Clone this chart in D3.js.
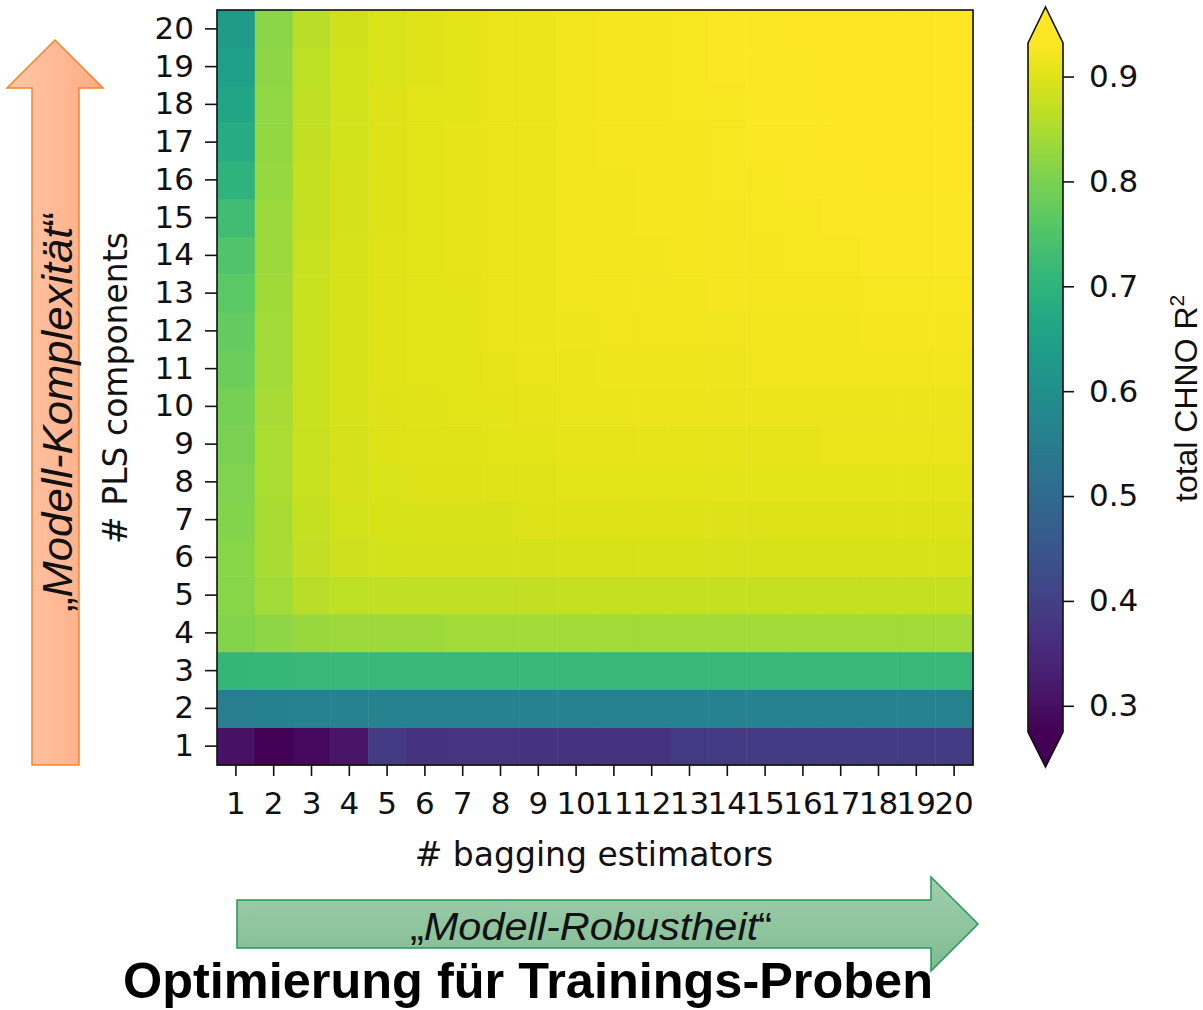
<!DOCTYPE html>
<html><head><meta charset="utf-8">
<script src="https://cdn.jsdelivr.net/npm/d3@7"></script>
<style>body{margin:0;background:#fff}svg{display:block}</style>
</head><body><svg id="c" width="1203" height="1010"></svg>
<script>
// ---- data ----
const baggingEstimators = [1,2,3,4,5,6,7,8,9,10,11,12,13,14,15,16,17,18,19,20];
const plsComponents = [1,2,3,4,5,6,7,8,9,10,11,12,13,14,15,16,17,18,19,20];
// r2RowNN = total CHNO R² for NN PLS components, columns = bagging estimators 1..20
const r2Row01 = [0.305,0.278,0.290,0.310,0.390,0.370,0.375,0.375,0.370,0.370,0.370,0.370,0.385,0.385,0.390,0.390,0.390,0.390,0.390,0.390];
const r2Row02 = [0.550,0.560,0.565,0.565,0.565,0.565,0.565,0.565,0.565,0.565,0.565,0.565,0.565,0.565,0.565,0.565,0.565,0.565,0.565,0.565];
const r2Row03 = [0.710,0.712,0.715,0.715,0.715,0.715,0.715,0.715,0.715,0.715,0.715,0.715,0.715,0.715,0.715,0.715,0.715,0.715,0.715,0.715];
const r2Row04 = [0.810,0.820,0.830,0.835,0.836,0.836,0.840,0.840,0.840,0.840,0.840,0.840,0.840,0.840,0.840,0.840,0.840,0.840,0.840,0.840];
const r2Row05 = [0.815,0.840,0.862,0.867,0.868,0.868,0.868,0.868,0.872,0.874,0.874,0.874,0.874,0.874,0.874,0.874,0.874,0.874,0.874,0.874];
const r2Row06 = [0.815,0.845,0.872,0.882,0.887,0.890,0.890,0.890,0.890,0.892,0.892,0.892,0.892,0.892,0.892,0.892,0.892,0.892,0.892,0.892];
const r2Row07 = [0.810,0.845,0.874,0.886,0.892,0.892,0.893,0.893,0.897,0.897,0.897,0.897,0.897,0.897,0.897,0.897,0.897,0.897,0.897,0.897];
const r2Row08 = [0.805,0.848,0.876,0.889,0.895,0.897,0.898,0.899,0.900,0.902,0.902,0.902,0.902,0.904,0.904,0.904,0.904,0.905,0.905,0.905];
const r2Row09 = [0.800,0.848,0.878,0.890,0.897,0.899,0.901,0.902,0.904,0.907,0.907,0.908,0.908,0.908,0.908,0.908,0.909,0.909,0.909,0.909];
const r2Row10 = [0.795,0.845,0.879,0.891,0.898,0.901,0.902,0.905,0.907,0.910,0.911,0.912,0.912,0.912,0.912,0.912,0.914,0.914,0.914,0.914];
const r2Row11 = [0.785,0.842,0.880,0.892,0.899,0.902,0.904,0.907,0.910,0.914,0.915,0.916,0.916,0.916,0.917,0.917,0.918,0.918,0.918,0.918];
const r2Row12 = [0.775,0.840,0.880,0.892,0.899,0.903,0.905,0.909,0.912,0.916,0.917,0.918,0.918,0.919,0.920,0.920,0.921,0.922,0.922,0.922];
const r2Row13 = [0.765,0.838,0.879,0.892,0.899,0.903,0.906,0.910,0.913,0.917,0.919,0.920,0.920,0.922,0.923,0.924,0.924,0.925,0.925,0.925];
const r2Row14 = [0.750,0.835,0.877,0.891,0.899,0.903,0.907,0.911,0.914,0.918,0.920,0.921,0.922,0.923,0.924,0.925,0.926,0.927,0.927,0.927];
const r2Row15 = [0.730,0.832,0.875,0.890,0.898,0.903,0.907,0.911,0.914,0.919,0.921,0.922,0.923,0.924,0.925,0.926,0.927,0.929,0.929,0.929];
const r2Row16 = [0.700,0.828,0.873,0.889,0.898,0.902,0.907,0.911,0.914,0.919,0.921,0.922,0.924,0.925,0.926,0.927,0.929,0.930,0.930,0.930];
const r2Row17 = [0.680,0.826,0.871,0.888,0.897,0.902,0.907,0.911,0.914,0.919,0.922,0.923,0.924,0.926,0.927,0.928,0.930,0.931,0.931,0.931];
const r2Row18 = [0.665,0.824,0.869,0.887,0.897,0.902,0.906,0.911,0.914,0.919,0.922,0.923,0.925,0.926,0.927,0.929,0.930,0.931,0.931,0.931];
const r2Row19 = [0.645,0.820,0.867,0.886,0.896,0.901,0.906,0.910,0.914,0.919,0.922,0.923,0.925,0.927,0.928,0.929,0.931,0.931,0.932,0.932];
const r2Row20 = [0.635,0.818,0.865,0.885,0.896,0.901,0.906,0.910,0.914,0.919,0.922,0.924,0.925,0.927,0.928,0.930,0.931,0.931,0.932,0.932];
const r2Rows = [r2Row01,r2Row02,r2Row03,r2Row04,r2Row05,r2Row06,r2Row07,r2Row08,r2Row09,r2Row10,
                r2Row11,r2Row12,r2Row13,r2Row14,r2Row15,r2Row16,r2Row17,r2Row18,r2Row19,r2Row20];
const colorbarTicks = [0.3,0.4,0.5,0.6,0.7,0.8,0.9];
const colorLimits = [0.275, 0.932];

const xTitle = "# bagging estimators";
const yTitle = "# PLS components";
const cbTitle = "total CHNO R";
const upArrowText = "Modell-Komplexität";
const rightArrowText = "Modell-Robustheit";
const bottomTitle = "Optimierung für Trainings-Proben";

// ---- drawing ----
const svg = d3.select("#c");
const defs = svg.append("defs");
const tickFont = "'DejaVu Sans', sans-serif";
const arial = "'Liberation Sans', Arial, sans-serif";

const color = d3.scaleSequential(d3.interpolateViridis).domain(colorLimits);

// plot area
const L = 217, R = 973, T = 10, B = 765;
const x = d3.scaleBand().domain(baggingEstimators).range([L, R]);
const y = d3.scaleBand().domain(plsComponents).range([B, T]);

const cells = [];
r2Rows.forEach((row, i) => row.forEach((v, j) => cells.push({pls: plsComponents[i], bag: baggingEstimators[j], v})));

svg.append("g").selectAll("rect").data(cells).join("rect")
  .attr("x", d => x(d.bag)).attr("y", d => y(d.pls))
  .attr("width", x.bandwidth() + 0.5).attr("height", y.bandwidth() + 0.5)
  .attr("fill", d => color(d.v));

svg.append("rect").attr("x", L).attr("y", T).attr("width", R - L).attr("height", B - T)
  .attr("fill", "none").attr("stroke", "#111").attr("stroke-width", 1.6);

// axes
const yAxis = svg.append("g").attr("transform", `translate(${L},0)`)
  .call(d3.axisLeft(y).tickSize(12).tickPadding(11));
const xAxis = svg.append("g").attr("transform", `translate(0,${B})`)
  .call(d3.axisBottom(x).tickSize(11).tickPadding(16));
[yAxis, xAxis].forEach(g => {
  g.select(".domain").remove();
  g.selectAll(".tick line").attr("stroke", "#111").attr("stroke-width", 1.6);
  g.selectAll(".tick text").attr("fill", "#111").style("font-family", tickFont).style("font-size", "31px");
});

svg.append("text").attr("x", 594).attr("y", 866).attr("text-anchor", "middle")
  .style("font-family", tickFont).style("font-size", "33px").attr("fill", "#111").text(xTitle);
svg.append("text").attr("transform", "translate(127,388) rotate(-90)").attr("text-anchor", "middle")
  .style("font-family", tickFont).style("font-size", "33px").attr("fill", "#111").text(yTitle);

// colorbar
const cbL = 1028, cbR = 1063, cbTop = 43, cbBot = 732, cbMid = (cbL + cbR) / 2;
const cbScale = d3.scaleLinear().domain(colorLimits).range([cbBot, cbTop]);
const grad = defs.append("linearGradient").attr("id", "cbg").attr("x1", 0).attr("y1", 1).attr("x2", 0).attr("y2", 0);
d3.range(0, 1.0001, 0.05).forEach(t => grad.append("stop").attr("offset", t)
  .attr("stop-color", color(colorLimits[0] + t * (colorLimits[1] - colorLimits[0]))));
svg.append("rect").attr("x", cbL).attr("y", cbTop).attr("width", cbR - cbL).attr("height", cbBot - cbTop).attr("fill", "url(#cbg)");
svg.append("path").attr("d", `M${cbL},${cbTop}L${cbMid},7L${cbR},${cbTop}Z`).attr("fill", color(colorLimits[1]));
svg.append("path").attr("d", `M${cbL},${cbBot}L${cbMid},767L${cbR},${cbBot}Z`).attr("fill", color(colorLimits[0]));
svg.append("path").attr("d", `M${cbL},${cbTop}L${cbMid},7L${cbR},${cbTop}L${cbR},${cbBot}L${cbMid},767L${cbL},${cbBot}Z`)
  .attr("fill", "none").attr("stroke", "#111").attr("stroke-width", 1.6);
const cbAxis = svg.append("g").attr("transform", `translate(${cbR},0)`)
  .call(d3.axisRight(cbScale).tickValues(colorbarTicks).tickFormat(d3.format(".1f")).tickSize(11).tickPadding(15));
cbAxis.select(".domain").remove();
cbAxis.selectAll(".tick line").attr("stroke", "#111").attr("stroke-width", 1.6);
cbAxis.selectAll(".tick text").attr("fill", "#111").style("font-family", tickFont).style("font-size", "31px");

const cbt = svg.append("text").attr("transform", "translate(1197,502) rotate(-90)")
  .style("font-family", arial).style("font-size", "32px").attr("fill", "#111");
cbt.append("tspan").text(cbTitle);
cbt.append("tspan").attr("dy", -13).style("font-size", "21px").text("2");

// orange up arrow
const og = defs.append("linearGradient").attr("id", "og").attr("x1", 0).attr("y1", 0).attr("x2", 1).attr("y2", 0);
og.append("stop").attr("offset", 0).attr("stop-color", "#ffc7a9");
og.append("stop").attr("offset", 1).attr("stop-color", "#ffac84");
svg.append("path").attr("d", "M32,765L32,88L7,88L55,40L103,88L79,88L79,765Z")
  .attr("fill", "url(#og)").attr("stroke", "#f5842a").attr("stroke-width", 1.5);
const ut = svg.append("text").attr("transform", "translate(72,612) rotate(-90)")
  .attr("textLength", 400).attr("lengthAdjust", "spacingAndGlyphs")
  .style("font-family", arial).style("font-size", "42px").attr("fill", "#111");
ut.append("tspan").text("\u201E");
ut.append("tspan").style("font-style", "italic").text(upArrowText);
ut.append("tspan").text("\u201C");

// green right arrow
const gg = defs.append("linearGradient").attr("id", "gg").attr("x1", 0).attr("y1", 0).attr("x2", 0).attr("y2", 1);
gg.append("stop").attr("offset", 0).attr("stop-color", "#a0cfad");
gg.append("stop").attr("offset", 1).attr("stop-color", "#80bb92");
svg.append("path").attr("d", "M237,900L931,900L931,877L978,924L931,971L931,948L237,948Z")
  .attr("fill", "url(#gg)").attr("stroke", "#1f9a55").attr("stroke-width", 1.5);
const rt = svg.append("text").attr("x", 591).attr("y", 940).attr("text-anchor", "middle")
  .attr("textLength", 362).attr("lengthAdjust", "spacingAndGlyphs")
  .style("font-family", arial).style("font-size", "38px").attr("fill", "#111");
rt.append("tspan").text("\u201E");
rt.append("tspan").style("font-style", "italic").text(rightArrowText);
rt.append("tspan").text("\u201C");

svg.append("text").attr("x", 528).attr("y", 998).attr("text-anchor", "middle")
  .attr("textLength", 810).attr("lengthAdjust", "spacingAndGlyphs")
  .style("font-family", arial).style("font-size", "50px").style("font-weight", "bold").attr("fill", "#000")
  .text(bottomTitle);
</script></body></html>
